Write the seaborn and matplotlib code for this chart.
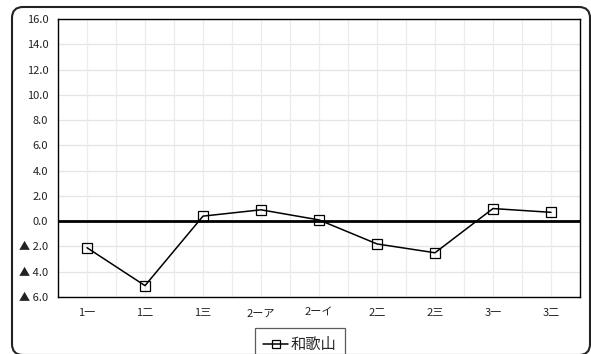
import matplotlib
matplotlib.use("Agg")
import matplotlib.pyplot as plt
from matplotlib.patches import FancyBboxPatch
from matplotlib.ticker import FixedLocator
import seaborn as sns
import pandas as pd

categories = ["1一", "1二", "1三", "2ーア", "2ーイ", "2二", "2三", "3一", "3二"]
values = [-2.1, -5.1, 0.4, 0.9, 0.1, -1.8, -2.5, 1.0, 0.7]
series_name = "和歌山"
y_ticks = [-6, -4, -2, 0, 2, 4, 6, 8, 10, 12, 14, 16]

sns.set_theme(style="white")
plt.rcParams["font.family"] = ["Noto Sans CJK JP", "DejaVu Sans"]

df = pd.DataFrame({"区分": categories, "値": values, "系列": series_name})
df["pos"] = range(len(categories))

W, H = 591, 354
fig = plt.figure(figsize=(W / 100, H / 100), dpi=100)
ax = fig.add_axes([58 / W, 1 - 297 / H, 522 / W, 278 / H])

# rounded outer frame; its lower edge sits on the canvas border
frame = FancyBboxPatch((12 / W, -1 / H), 578 / W, 348 / H,
                       boxstyle=f"round,pad=0,rounding_size={11 / W}",
                       transform=fig.transFigure, facecolor="none",
                       edgecolor="#222222", linewidth=1.5, zorder=0,
                       mutation_aspect=W / H)
fig.patches.append(frame)

sns.lineplot(data=df, x="pos", y="値", hue="系列", palette=["black"],
             marker="s", markersize=7, markerfacecolor="none",
             markeredgecolor="black", markeredgewidth=0.9,
             linewidth=1.1, ax=ax, zorder=5)

ax.set_xlim(-0.5, len(categories) - 0.5)
ax.set_ylim(-6, 16)

# gridlines: horizontal every 2, vertical at category centers and boundaries
for y in y_ticks:
    ax.axhline(y, color="#e4e4e4", linewidth=0.9, zorder=1)
for i in range(len(categories)):
    ax.axvline(i, color="#ececec", linewidth=0.9, zorder=1)
    if i > 0:
        ax.axvline(i - 0.5, color="#ececec", linewidth=0.9, zorder=1)
ax.axhline(0, color="black", linewidth=2.0, zorder=3)

ax.xaxis.set_major_locator(FixedLocator(list(range(len(categories)))))
ax.set_xticklabels(categories, fontsize=8, color="#222222")
ax.yaxis.set_major_locator(FixedLocator(y_ticks))
ax.set_yticklabels([f"▲ {abs(v):.1f}" if v < 0 else f"{v:.1f}" for v in y_ticks],
                   fontsize=8, color="#222222")
ax.tick_params(axis="both", length=0)
ax.tick_params(axis="x", pad=8)
ax.tick_params(axis="y", pad=7)
ax.set_xlabel("")
ax.set_ylabel("")

for s in ax.spines.values():
    s.set_visible(True)
    s.set_color("black")
    s.set_linewidth(1.0)

leg = ax.legend(loc="upper center", bbox_to_anchor=(300 / W, 1 - 328 / H),
                bbox_transform=fig.transFigure, frameon=True,
                fancybox=False, edgecolor="#333333", fontsize=11,
                handlelength=1.6, handletextpad=0.2, borderpad=0.55,
                borderaxespad=0, markerscale=0.9)
leg.get_frame().set_linewidth(0.9)
for h in leg.legend_handles:
    h.set_markerfacecolor("none")

fig.savefig("out.png", dpi=100)
